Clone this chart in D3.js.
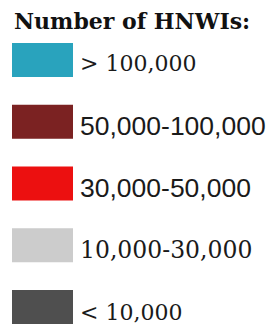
<!DOCTYPE html>
<html>
<head>
<meta charset="utf-8">
<script src="https://cdn.jsdelivr.net/npm/d3@7"></script>
<style>
  html, body { margin: 0; padding: 0; background: #ffffff; }
</style>
</head>
<body>
<div id="legend"></div>
<script>
// Légende : classes du nombre de HNWIs
const title = "Number of HNWIs:";
const classes = ["> 100,000", "50,000-100,000", "30,000-50,000", "10,000-30,000", "< 10,000"];
const colors = ["#29a3bd", "#7b2222", "#ec1010", "#cccccc", "#4f4f4f"];

const width = 272;
const height = 324;

const svg = d3.select("#legend")
  .append("svg")
  .attr("width", width)
  .attr("height", height)
  .attr("viewBox", [0, 0, width, height]);

// position verticale des classes
const y = d3.scalePoint()
  .domain(classes)
  .range([43, 290]);

const color = d3.scaleOrdinal()
  .domain(classes)
  .range(colors);

// police par ligne (mélange serif / sans dans l'original)
const sansRows = new Set(["50,000-100,000", "30,000-50,000"]);
const fontSize = d => sansRows.has(d) ? 26.5 : (d === "10,000-30,000" ? 23.5 : 22);

svg.append("text")
  .attr("x", 14)
  .attr("y", 29)
  .attr("font-family", "'DejaVu Serif', serif")
  .attr("font-weight", "bold")
  .attr("font-size", 22)
  .attr("fill", "#111")
  .text(title);

const rows = svg.selectAll("g.row")
  .data(classes)
  .join("g")
  .attr("class", "row")
  .attr("transform", d => `translate(0, ${y(d)})`);

rows.append("rect")
  .attr("x", 12)
  .attr("width", 61)
  .attr("height", 34)
  .attr("fill", d => color(d));

rows.append("text")
  .attr("x", 80)
  .attr("y", (d, i) => i === 0 ? 28 : 30)
  .attr("font-family", d => sansRows.has(d) ? "'Liberation Sans', sans-serif" : "'DejaVu Serif', serif")
  .attr("font-size", fontSize)
  .attr("fill", "#1a1a1a")
  .text(d => d);
</script>
</body>
</html>
